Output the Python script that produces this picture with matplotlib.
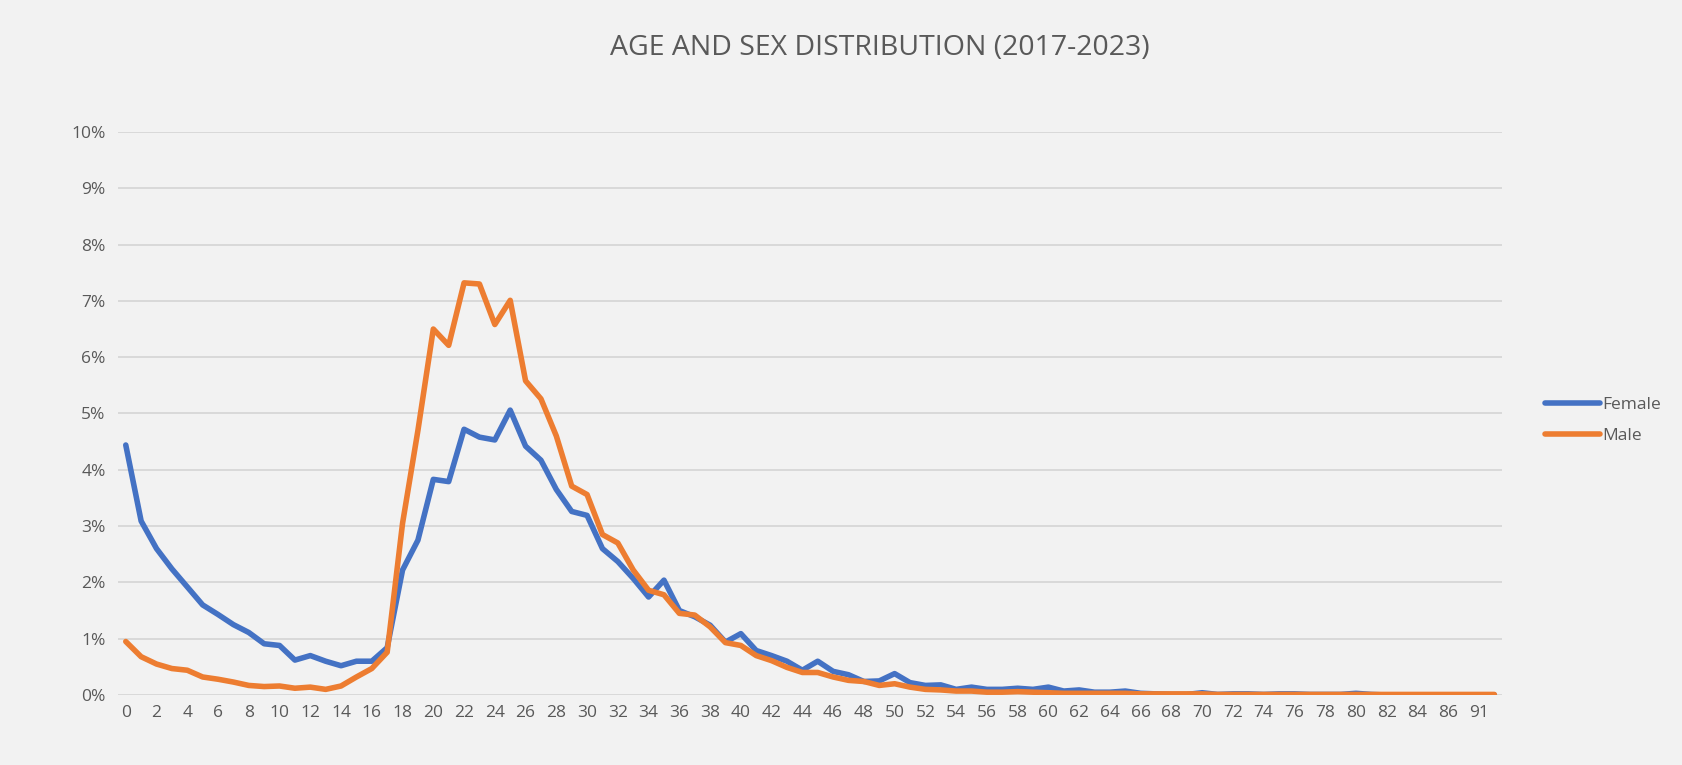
import matplotlib
matplotlib.use("Agg")
import matplotlib.pyplot as plt
from matplotlib.ticker import PercentFormatter

# ages on the category axis (the source skips a couple of ages at the tail)
ages = list(range(88)) + [91, 92]

female = [4.44, 3.09, 2.60, 2.24, 1.92, 1.60, 1.43, 1.25, 1.11, 0.91,
          0.88, 0.62, 0.70, 0.60, 0.52, 0.60, 0.60, 0.84, 2.22, 2.75,
          3.83, 3.79, 4.72, 4.58, 4.53, 5.06, 4.42, 4.17, 3.65, 3.26,
          3.19, 2.60, 2.37, 2.07, 1.74, 2.04, 1.50, 1.39, 1.24, 0.94,
          1.09, 0.79, 0.70, 0.60, 0.44, 0.60, 0.42, 0.36, 0.24, 0.25,
          0.38, 0.22, 0.17, 0.18, 0.10, 0.14, 0.10, 0.10, 0.12, 0.10,
          0.14, 0.07, 0.09, 0.05, 0.05, 0.07, 0.03, 0.02, 0.01, 0.01,
          0.04, 0.01, 0.02, 0.02, 0.01, 0.02, 0.02, 0.01, 0.01, 0.01,
          0.03, 0.01, 0.0, 0.0, 0.0, 0.0, 0.0, 0.0, 0.0, 0.0]

male = [0.95, 0.68, 0.55, 0.47, 0.44, 0.32, 0.28, 0.23, 0.17, 0.15,
        0.16, 0.12, 0.14, 0.10, 0.16, 0.32, 0.47, 0.76, 3.05, 4.70,
        6.50, 6.21, 7.32, 7.30, 6.58, 7.01, 5.58, 5.26, 4.60, 3.71,
        3.56, 2.85, 2.70, 2.22, 1.86, 1.78, 1.45, 1.42, 1.21, 0.93,
        0.88, 0.70, 0.61, 0.49, 0.40, 0.40, 0.32, 0.26, 0.24, 0.17,
        0.20, 0.14, 0.10, 0.09, 0.07, 0.07, 0.05, 0.05, 0.06, 0.05,
        0.04, 0.03, 0.03, 0.03, 0.03, 0.03, 0.02, 0.02, 0.02, 0.02,
        0.02, 0.01, 0.01, 0.01, 0.01, 0.01, 0.01, 0.01, 0.01, 0.01,
        0.01, 0.01, 0.01, 0.01, 0.01, 0.01, 0.01, 0.01, 0.01, 0.01]

bg = '#F2F2F2'
txt = '#595959'

plt.rcParams['font.family'] = ['Open Sans', 'DejaVu Sans']

fig = plt.figure(figsize=(16.82, 7.65), dpi=100, facecolor=bg)
ax = fig.add_axes([0.0702, 0.0915, 0.8228, 0.736], facecolor=bg)

x = list(range(len(ages)))
ax.plot(x, [v / 100 for v in female], color='#4472C4', lw=4, label='Female',
        solid_joinstyle='round', solid_capstyle='round', zorder=3)
ax.plot(x, [v / 100 for v in male], color='#ED7D31', lw=4, label='Male',
        solid_joinstyle='round', solid_capstyle='round', zorder=4)

ax.set_xlim(-0.5, len(ages) - 0.5)
ax.set_ylim(0, 0.10)
ax.set_yticks([i / 100 for i in range(11)])
ax.yaxis.set_major_formatter(PercentFormatter(1.0, decimals=0))
ax.set_xticks(x[::2])
ax.set_xticklabels([str(a) for a in ages[::2]])
ax.grid(axis='y', color='#D9D9D9', lw=1.4)
ax.set_axisbelow(True)
for s in ax.spines.values():
    s.set_visible(False)
ax.tick_params(length=0, colors=txt, labelsize=12.5)
ax.tick_params(axis='y', pad=9)
ax.tick_params(axis='x', pad=7)

fig.text(0.523, 0.937, 'AGE AND SEX DISTRIBUTION (2017-2023)', ha='center', va='center',
         fontsize=20.5, color=txt)

fig.legend(loc='center left', bbox_to_anchor=(0.909, 0.45), frameon=False,
           fontsize=12.5, labelcolor=txt, handlelength=3.2, handletextpad=0.1,
           labelspacing=0.85)

fig.savefig('out.png', dpi=100, facecolor=bg)
